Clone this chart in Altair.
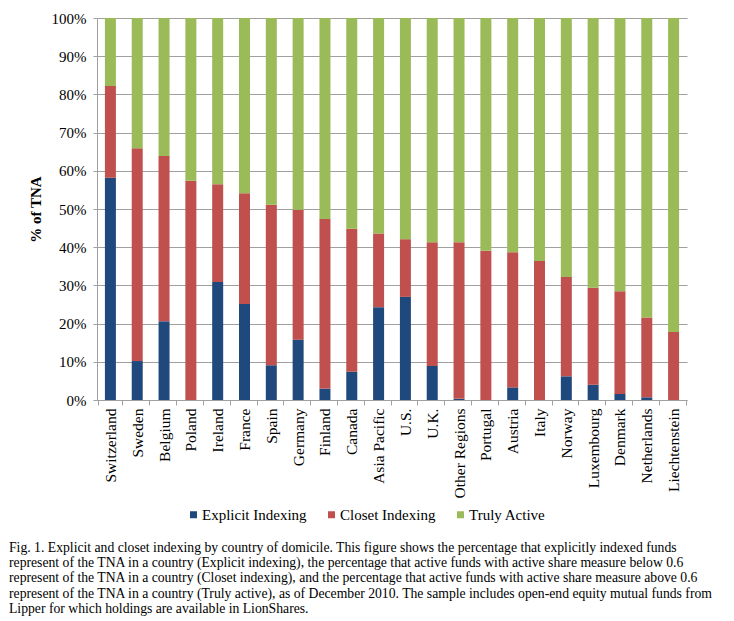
import altair as alt
import pandas as pd

countries = ["Switzerland", "Sweden", "Belgium", "Poland", "Ireland", "France", "Spain",
             "Germany", "Finland", "Canada", "Asia Pacific", "U.S.", "U.K.", "Other Regions",
             "Portugal", "Austria", "Italy", "Norway", "Luxembourg", "Denmark", "Netherlands",
             "Liechtenstein"]
explicit = [58.2, 10.2, 20.6, 0.0, 30.9, 25.1, 9.1, 15.8, 3.0, 7.4, 24.3, 27.0, 8.9, 0.3,
            0.0, 3.3, 0.0, 6.2, 4.0, 1.6, 0.7, 0.0]
closet = [24.0, 55.7, 43.3, 57.4, 25.6, 29.0, 42.0, 34.0, 44.4, 37.4, 19.3, 15.1, 32.4, 41.0,
          39.1, 35.4, 36.4, 26.0, 25.4, 26.9, 20.9, 17.8]
truly = [17.8, 34.1, 36.1, 42.6, 43.5, 45.9, 48.9, 50.2, 52.6, 55.2, 56.4, 57.9, 58.7, 58.7,
         60.9, 61.3, 63.6, 67.8, 70.6, 71.5, 78.4, 82.2]
series = ["Explicit Indexing", "Closet Indexing", "Truly Active"]
colors = ["#1F497D", "#C0504D", "#9BBB59"]
y_ticks = [0, 10, 20, 30, 40, 50, 60, 70, 80, 90, 100]
caption = [
    "Fig. 1. Explicit and closet indexing by country of domicile. This figure shows the percentage that explicitly indexed funds",
    "represent of the TNA in a country (Explicit indexing), the percentage that active funds with active share measure below 0.6",
    "represent of the TNA in a country (Closet indexing), and the percentage that active funds with active share measure above 0.6",
    "represent of the TNA in a country (Truly active), as of December 2010. The sample includes open-end equity mutual funds from",
    "Lipper for which holdings are available in LionShares.",
]

rows = []
for i, c in enumerate(countries):
    for k, (s, vals) in enumerate(zip(series, [explicit, closet, truly])):
        rows.append({"country": c, "series": s, "value": vals[i], "idx": k})
df = pd.DataFrame(rows)

FONT = "Liberation Serif"
GRAY = "#a0a0a0"

chart = alt.Chart(df).mark_bar(size=11).encode(
    x=alt.X("country:N", sort=countries, title=None,
            axis=alt.Axis(labelAngle=-90, labelFont=FONT, labelFontSize=15.5, labelColor="black",
                          labelPadding=3, tickBand="extent", tickSize=5, tickColor=GRAY,
                          domainColor=GRAY, grid=False)),
    y=alt.Y("value:Q", stack="zero", title="% of TNA",
            scale=alt.Scale(domain=[0, 100], nice=False),
            axis=alt.Axis(values=y_ticks, labelExpr="datum.value + '%'", labelFont=FONT,
                          labelFontSize=15, labelColor="black", labelPadding=7, tickSize=4,
                          tickColor=GRAY, domainColor=GRAY, gridColor=GRAY, grid=True,
                          titleFont=FONT, titleFontSize=15, titleFontWeight="bold",
                          titleColor="black", titlePadding=8)),
    color=alt.Color("series:N", scale=alt.Scale(domain=series, range=colors),
                    legend=alt.Legend(orient="none", legendX=89, legendY=489, direction="horizontal",
                                      title=None, symbolType="square", symbolSize=49,
                                      symbolStrokeWidth=0, labelFont=FONT, labelFontSize=15,
                                      labelColor="black", columnPadding=17, labelOffset=1)),
    order=alt.Order("idx:Q", sort="ascending"),
).properties(
    width=590,
    height=382,
    autosize=alt.AutoSizeParams(type="none"),
    padding={"left": 89, "top": 10, "right": 30, "bottom": 228},
    title=alt.TitleParams(text=caption, orient="bottom", anchor="start", frame="group",
                          dx=-88, offset=18, font=FONT, fontSize=13.7, fontWeight="normal",
                          lineHeight=15.2, color="black"),
).configure_view(stroke=None)

chart.save("out.html", embed_options={"renderer": "svg", "actions": False})
